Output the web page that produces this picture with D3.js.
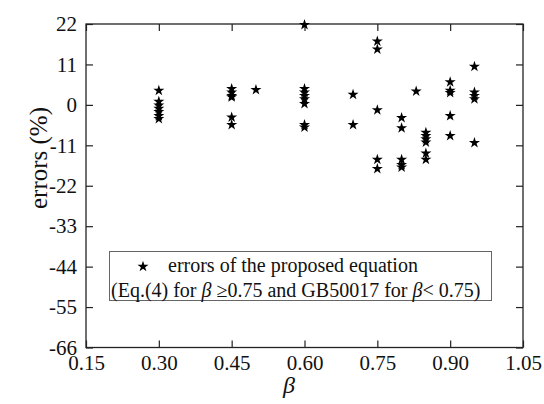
<!DOCTYPE html>
<html>
<head>
<meta charset="utf-8">
<script src="https://cdn.jsdelivr.net/npm/d3@7"></script>
<style>
  html, body { margin: 0; padding: 0; background: #fff; }
  svg { display: block; }
  text { font-family: "Liberation Serif", "DejaVu Serif", serif !important; fill: #111; }
</style>
</head>
<body>
<svg id="chart" width="544" height="404"></svg>
<script>
// Relative error of the proposed equation against the ratio beta
const beta = [
  0.30, 0.30, 0.30, 0.30, 0.30, 0.30, 0.30,
  0.45, 0.45, 0.45, 0.45, 0.45, 0.45,
  0.50,
  0.60, 0.60, 0.60, 0.60, 0.60, 0.60, 0.60, 0.60,
  0.70, 0.70,
  0.75, 0.75, 0.75, 0.75, 0.75,
  0.80, 0.80, 0.80, 0.80, 0.80,
  0.83,
  0.85, 0.85, 0.85, 0.85, 0.85, 0.85,
  0.90, 0.90, 0.90, 0.90, 0.90,
  0.95, 0.95, 0.95, 0.95, 0.95
];
const errors = [
  3.9, 0.9, -0.1, -1.0, -1.9, -3.0, -3.8,
  4.4, 3.4, 2.5, 2.1, -3.4, -5.4,
  4.1,
  21.8, 4.4, 3.4, 2.5, 1.6, 0.3, -5.4, -6.1,
  2.8, -5.4,
  17.3, 15.1, -1.4, -14.9, -17.4,
  -3.5, -6.3, -14.9, -16.3, -17.0,
  3.7,
  -7.5, -8.4, -9.3, -10.2, -13.2, -14.9,
  6.2, 3.9, 3.3, -3.0, -8.4,
  10.4, 3.4, 2.5, 1.6, -10.3
];
const xTicks = [0.15, 0.30, 0.45, 0.60, 0.75, 0.90, 1.05];
const yTicks = [22, 11, 0, -11, -22, -33, -44, -55, -66];

const svg = d3.select("#chart");
const plotL = 86, plotR = 523, plotT = 24, plotB = 347.5;

const x = d3.scaleLinear().domain([0.15, 1.05]).range([plotL, plotR]);
const y = d3.scaleLinear().domain([-66, 22]).range([plotB, plotT]);

// Inward ticks on all four sides of the frame
const tickLen = 7;
const axisStyle = g => {
  g.attr("font-family", "Liberation Serif").attr("font-size", 21);
  g.select(".domain").remove();
  g.selectAll(".tick line").attr("stroke", "#222").attr("stroke-width", 1.2);
  g.selectAll(".tick text").style("font-size", "21px").attr("fill", "#111");
};

svg.append("g").attr("transform", `translate(0,${plotB})`)
  .call(d3.axisBottom(x).tickValues(xTicks).tickFormat(d3.format(".2f"))
    .tickSizeInner(-tickLen).tickSizeOuter(0).tickPadding(7.5))
  .call(axisStyle);

svg.append("g").attr("transform", `translate(0,${plotT})`)
  .call(d3.axisTop(x).tickValues(xTicks).tickFormat("")
    .tickSizeInner(-tickLen).tickSizeOuter(0))
  .call(axisStyle);

svg.append("g").attr("transform", `translate(${plotL},0)`)
  .call(d3.axisLeft(y).tickValues(yTicks).tickFormat(d => String(d))
    .tickSizeInner(-tickLen).tickSizeOuter(0).tickPadding(9))
  .call(axisStyle);

svg.append("g").attr("transform", `translate(${plotR},0)`)
  .call(d3.axisRight(y).tickValues(yTicks).tickFormat("")
    .tickSizeInner(-tickLen).tickSizeOuter(0))
  .call(axisStyle);

// Plot frame
svg.append("rect")
  .attr("x", plotL).attr("y", plotT)
  .attr("width", plotR - plotL).attr("height", plotB - plotT)
  .attr("fill", "none").attr("stroke", "#222").attr("stroke-width", 1.3);

// Axis titles
svg.append("text")
  .attr("transform", `translate(38,158) rotate(-90)`)
  .attr("text-anchor", "middle").attr("dominant-baseline", "central")
  .style("font-size", "25px")
  .text("errors (%)");

svg.append("text")
  .attr("x", 289).attr("y", 393)
  .attr("text-anchor", "middle")
  .style("font-size", "24px").style("font-style", "italic")
  .text("β");

// Star markers
const star = d3.symbol().type(d3.symbolStar).size(38);
svg.append("g").selectAll("path")
  .data(d3.zip(beta, errors))
  .join("path")
  .attr("transform", d => `translate(${x(d[0])},${y(d[1])})`)
  .attr("d", star)
  .attr("fill", "#000");

// Legend
const lg = svg.append("g");
lg.append("rect")
  .attr("x", 109.5).attr("y", 251.5).attr("width", 382).attr("height", 49)
  .attr("fill", "#fff").attr("stroke", "#666").attr("stroke-width", 1);
lg.append("path")
  .attr("transform", "translate(143,266.5)")
  .attr("d", star).attr("fill", "#000");
lg.append("text")
  .attr("x", 168).attr("y", 272)
  .style("font-size", "20px")
  .text("errors of the proposed equation");
const line2 = lg.append("text")
  .attr("x", 111).attr("y", 296.5)
  .style("font-size", "20px");
line2.append("tspan").text("(Eq.(4) for ");
line2.append("tspan").style("font-style", "italic").text("β");
line2.append("tspan").text(" ≥0.75 and GB50017 for ");
line2.append("tspan").style("font-style", "italic").text("β");
line2.append("tspan").text("< 0.75)");
</script>
</body>
</html>
